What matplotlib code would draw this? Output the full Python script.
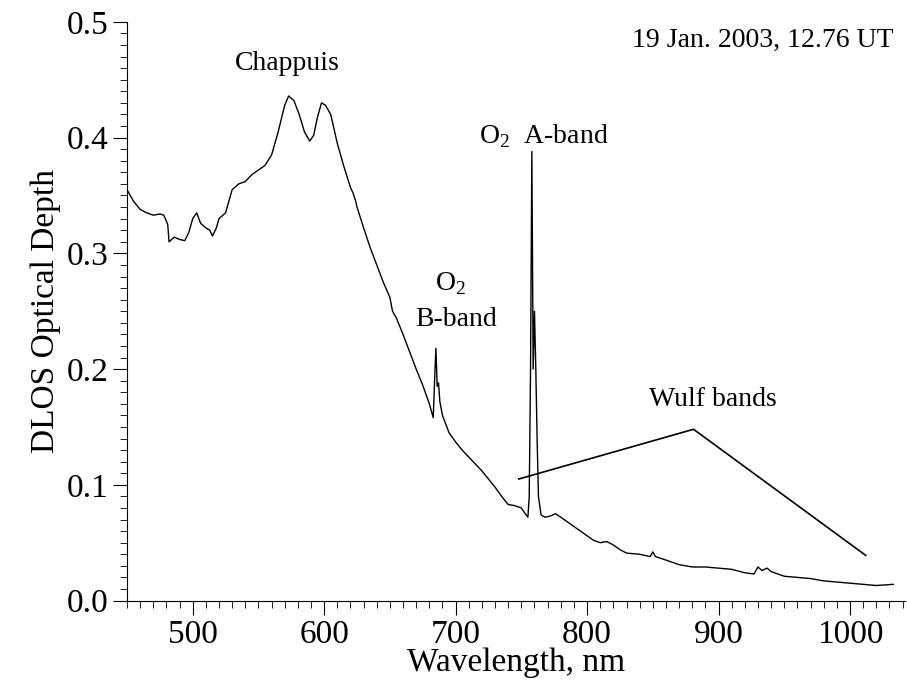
import matplotlib
matplotlib.use("Agg")
import matplotlib.pyplot as plt
from matplotlib.ticker import MultipleLocator, FormatStrFormatter

wavelength = [450, 455, 460, 465, 470, 475, 478, 481, 482, 486, 490, 494, 497, 500, 503, 506, 510, 513,
              515, 518, 520, 525, 530, 535, 540, 545, 550, 555, 560, 565, 570, 573, 577, 581, 585, 589,
              592, 595, 598, 601, 605, 610, 615, 620, 622, 624, 625, 630, 635, 640, 645, 650, 652, 655,
              660, 665, 670, 675, 680, 682, 683, 684, 685, 686, 687, 688, 690, 695, 700, 705, 710, 715,
              720, 725, 730, 735, 740, 745, 750, 753, 755, 756, 757, 758, 759, 760, 761, 762, 763, 765,
              768, 772, 776, 780, 785, 790, 795, 800, 805, 810, 815, 820, 825, 830, 840, 848, 850, 852,
              860, 870, 880, 890, 900, 910, 920, 927, 930, 933, 937, 940, 945, 950, 960, 970, 980, 990,
              1000, 1010, 1020, 1033]
depth = [0.355, 0.345, 0.338, 0.335, 0.333, 0.334, 0.333, 0.325, 0.310, 0.314, 0.312, 0.311, 0.318, 0.330,
         0.335, 0.326, 0.322, 0.320, 0.315, 0.322, 0.330, 0.335, 0.355, 0.360, 0.362, 0.368, 0.372, 0.376,
         0.385, 0.405, 0.428, 0.436, 0.432, 0.420, 0.405, 0.397, 0.402, 0.418, 0.430, 0.428, 0.420, 0.395,
         0.375, 0.357, 0.352, 0.345, 0.340, 0.322, 0.305, 0.290, 0.275, 0.262, 0.250, 0.244, 0.230, 0.215,
         0.200, 0.186, 0.170, 0.162, 0.158, 0.190, 0.218, 0.185, 0.188, 0.172, 0.160, 0.145, 0.137, 0.130,
         0.124, 0.118, 0.112, 0.105, 0.098, 0.090, 0.083, 0.082, 0.080, 0.075, 0.072, 0.090, 0.200, 0.388,
         0.200, 0.250, 0.200, 0.140, 0.090, 0.074, 0.072, 0.073, 0.075, 0.072, 0.068, 0.064, 0.060, 0.056,
         0.052, 0.050, 0.051, 0.048, 0.044, 0.041, 0.040, 0.038, 0.042, 0.038, 0.035, 0.031, 0.029, 0.029,
         0.028, 0.027, 0.024, 0.023, 0.029, 0.026, 0.028, 0.025, 0.023, 0.021, 0.020, 0.019, 0.017, 0.016,
         0.015, 0.014, 0.013, 0.014]

wulf_x = [748, 881, 1012]
wulf_y = [0.105, 0.148, 0.039]


def main() -> None:
    plt.rcParams["font.family"] = ["Liberation Serif", "DejaVu Serif"]
    plt.rcParams["mathtext.fontset"] = "custom"
    plt.rcParams["mathtext.rm"] = "Liberation Serif"
    fig, ax = plt.subplots(figsize=(9.07, 6.84), dpi=100)
    fig.subplots_adjust(left=0.14, right=0.998, top=0.968, bottom=0.122)

    ax.plot(wavelength, depth, color="black", linewidth=1.0)
    ax.plot(wulf_x, wulf_y, color="black", linewidth=1.2)

    ax.set_xlim(450, 1042)
    ax.set_ylim(0, 0.5)
    ax.xaxis.set_major_locator(MultipleLocator(100))
    ax.xaxis.set_minor_locator(MultipleLocator(10))
    ax.yaxis.set_major_locator(MultipleLocator(0.1))
    ax.yaxis.set_minor_locator(MultipleLocator(0.01))
    ax.yaxis.set_major_formatter(FormatStrFormatter("%.1f"))
    ax.spines["top"].set_visible(False)
    ax.spines["right"].set_visible(False)
    ax.tick_params(which="major", length=10, labelsize=24)
    ax.tick_params(which="minor", length=5)

    ax.set_xlabel("Wavelength, nm", fontsize=24, labelpad=-2)
    ax.set_ylabel("DLOS Optical Depth", fontsize=24)

    ax.text(572, 0.458, "Chappuis", fontsize=20, ha="center")
    ax.text(767, 0.395, "O$_\\mathrm{2}$  A-band", fontsize=20, ha="center")
    ax.text(696, 0.268, "O$_\\mathrm{2}$", fontsize=20, ha="center")
    ax.text(700, 0.237, "B-band", fontsize=20, ha="center")
    ax.text(896, 0.168, "Wulf bands", fontsize=20, ha="center")
    ax.text(0.985, 0.99, "19 Jan. 2003, 12.76 UT", transform=ax.transAxes,
            fontsize=20, ha="right", va="top")

    fig.savefig("out.png", dpi=100)
    plt.close(fig)


if __name__ == "__main__":
    main()
